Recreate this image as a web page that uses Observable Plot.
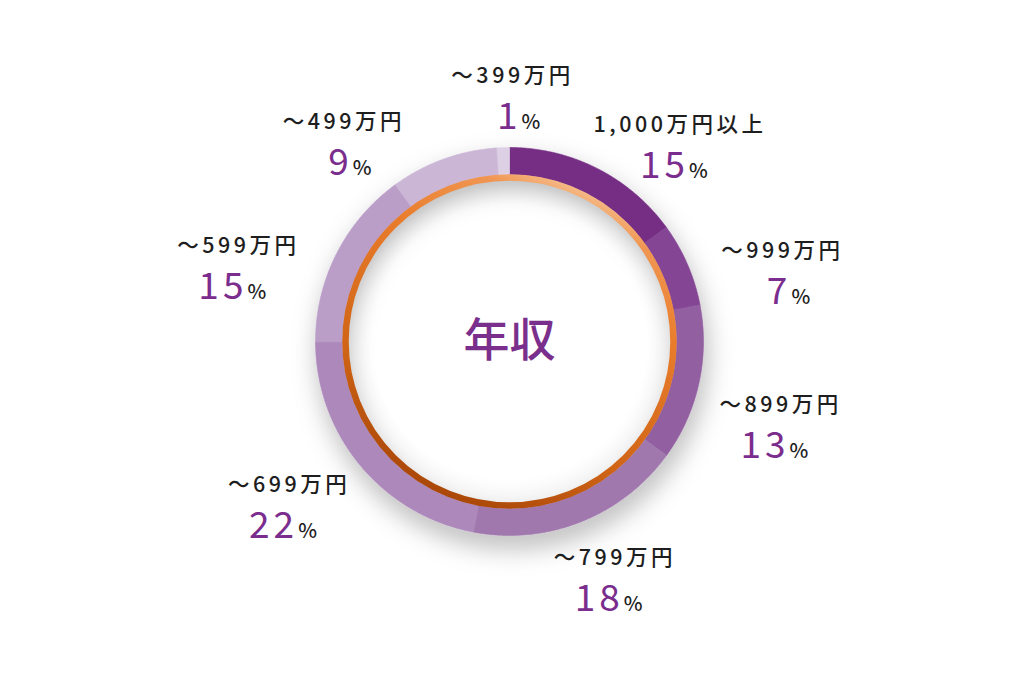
<!DOCTYPE html>
<html><head><meta charset="utf-8">
<script src="https://cdn.jsdelivr.net/npm/d3@7"></script>
<script src="https://cdn.jsdelivr.net/npm/@observablehq/plot@0.6"></script>
<style>html,body{margin:0;padding:0;background:#fff;overflow:hidden}</style>
</head><body><div id="chart"></div>
<script>
// ---- data ----
const categories = ["1,000万円以上", "～999万円", "～899万円", "～799万円", "～699万円", "～599万円", "～499万円", "～399万円"];
const shares = [15, 7, 13, 18, 22, 15, 9, 1];
const centerLabel = "年収";

// ---- styles ----
const palette = ["#752d84", "#834594", "#925ea1", "#a078ae", "#ad88bb", "#ba9ec7", "#cbb6d6", "#ddd0e5"];
const R_OUT = 194, R_IN = 167, R_RING = 164, R_DISC = 162;
const LABEL_RX = 286, LABEL_RY = 250, LABEL_CY = 4, MIN_GAP = 36;

const rad = d => d * Math.PI / 180;
let acc = 0;
const segs = categories.map((c, i) => {
  const s = acc; acc += shares[i];
  return {cat: c, share: shares[i], a0: s / 100 * 360, a1: acc / 100 * 360};
});
const pts = [];
for (const s of segs) {
  const n = Math.max(2, Math.ceil((s.a1 - s.a0) * 2));
  for (let k = 0; k <= n; k++) {
    const a = rad(s.a0 + (s.a1 - s.a0) * k / n);
    pts.push({cat: s.cat, x: R_OUT * Math.sin(a), y: -R_OUT * Math.cos(a)});
  }
  for (let k = n; k >= 0; k--) {
    const a = rad(s.a0 + (s.a1 - s.a0) * k / n);
    pts.push({cat: s.cat, x: R_IN * Math.sin(a), y: -R_IN * Math.cos(a)});
  }
}
// label angles: mid-angle of each slice, relaxed apart so labels do not collide
const ang = segs.map(s => (s.a0 + s.a1) / 2);
for (let it = 0; it < 400; it++) {
  for (let i = 0; i < ang.length; i++) {
    const j = (i + 1) % ang.length;
    const gap = (((ang[j] - ang[i]) % 360) + 360) % 360;
    if (gap < MIN_GAP) { const d = (MIN_GAP - gap) / 2; ang[i] -= d; ang[j] += d; }
  }
}
const labels = segs.map((s, i) => ({
  cat: s.cat, share: s.share,
  x: LABEL_RX * Math.sin(rad(ang[i])), y: LABEL_CY - LABEL_RY * Math.cos(rad(ang[i]))
}));
const center = [{x: 0, y: 0}];

const FONT = "'Noto Sans CJK JP', 'Noto Sans', sans-serif";
const chart = Plot.plot({
  width: 1024, height: 683, margin: 0,
  x: {domain: [-509, 515], range: [0, 1024], axis: null},
  y: {domain: [-341, 342], range: [0, 683], axis: null},
  color: {domain: categories, range: palette},
  style: {fontFamily: FONT, background: "#fff"},
  marks: [
    Plot.dot(center, {x: "x", y: "y", r: R_DISC, fill: "url(#discGrad)", stroke: "none"}),
    Plot.line(pts, {x: "x", y: "y", z: "cat", fill: "cat", stroke: "cat", strokeWidth: 0.6, curve: "linear-closed"}),
    Plot.dot(center, {x: "x", y: "y", r: R_RING, fill: "none", stroke: "url(#ringGrad)", strokeWidth: 6.5}),
    Plot.text(center, {x: "x", y: "y", text: () => centerLabel, fontSize: 46, fontWeight: 500, fill: "#7b2f8c"}),
    Plot.text(labels, {x: "x", y: "y", text: "cat", dy: -13, lineAnchor: "bottom", fontSize: 21.5, fontWeight: 500, fill: "#1e1e1e"}),
    Plot.text(labels, {x: "x", y: "y", text: d => String(d.share), dx: 9, dy: 33, lineAnchor: "bottom", textAnchor: "end", fontSize: 37, fontWeight: 400, fill: "#7b2d8e"}),
    Plot.text(labels, {x: "x", y: "y", text: () => "%", dx: 9, dy: 33, lineAnchor: "bottom", textAnchor: "start", fontSize: 20, fontWeight: 500, fill: "#1e1e1e"})
  ]
});

const svg = d3.select(chart);
const textGroups = svg.selectAll("g[aria-label='text']").nodes();
d3.select(textGroups[1]).style("letter-spacing", "3.5px");
d3.select(textGroups[2]).style("letter-spacing", "4px");
const defs = svg.insert("defs", ":first-child");
const rg = defs.append("linearGradient").attr("id", "ringGrad").attr("x1", 0.7).attr("y1", 0).attr("x2", 0.25).attr("y2", 1);
[[0, "#f7c496"], [0.1, "#f09652"], [0.3, "#e97d2c"], [0.7, "#cf6416"], [1, "#a44306"]]
  .forEach(([o, c]) => rg.append("stop").attr("offset", o).attr("stop-color", c));
const dg = defs.append("radialGradient").attr("id", "discGrad").attr("cx", 0.5).attr("cy", 0.5).attr("r", 0.5);
[[0, "#ffffff"], [0.85, "#ffffff"], [1, "#f4f4f4"]]
  .forEach(([o, c]) => dg.append("stop").attr("offset", o).attr("stop-color", c));
const f = defs.append("filter").attr("id", "ringShadow").attr("x", "-30%").attr("y", "-30%").attr("width", "160%").attr("height", "160%");
f.append("feDropShadow").attr("dx", 3).attr("dy", 12).attr("stdDeviation", 13).attr("flood-color", "#000").attr("flood-opacity", 0.28);
svg.selectAll("g[aria-label='line']").attr("filter", "url(#ringShadow)");

document.getElementById("chart").appendChild(chart);
</script>
</body></html>
